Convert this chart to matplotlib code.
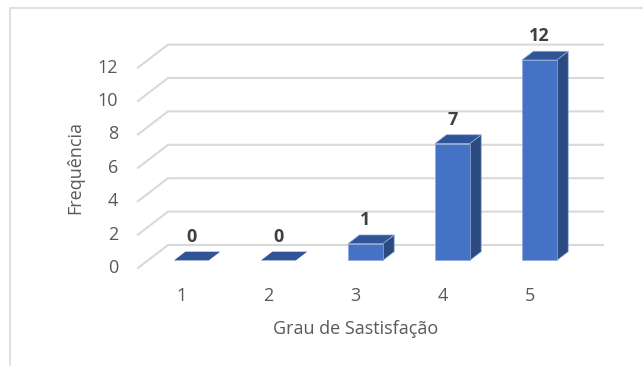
#!/usr/bin/env python3
# -*- coding: utf-8 -*-
import matplotlib
matplotlib.use("Agg")
import matplotlib.pyplot as plt
from matplotlib.patches import Polygon
from matplotlib.lines import Line2D

# Dados
categorias = ["1", "2", "3", "4", "5"]
frequencias = [0, 0, 1, 7, 12]
y_ticks = [0, 2, 4, 6, 8, 10, 12]

plt.rcParams['font.family'] = ['Open Sans', 'DejaVu Sans']

COR_FRENTE = "#4472C4"
COR_TOPO = "#2F5597"
COR_LADO = "#2A4A80"
COR_GRADE = "#D9D9D9"
COR_TEXTO = "#595959"
FS = 13

# profundidade 3D (em unidades de categoria / valor)
DX = 30 / 87
DY = 23 / 16.7


def proj(x, y, d):
    """Ponto (x, y) deslocado para a profundidade d (0 = frente, 1 = fundo)"""
    return (x + d * DX, y + d * DY)


fig = plt.figure(figsize=(6.43, 3.74), dpi=100)
ax = fig.add_axes([0, 0, 1, 1])
ax.set_xlim(-138 / 87, (643 - 138) / 87)
ax.set_ylim(-(374 - 268) / 16.7, 268 / 16.7)
ax.axis("off")

n = len(categorias)
# grade: linha diagonal + linha no fundo
for t in y_ticks:
    x0, y0 = proj(0, t, 0)
    x1, y1 = proj(0, t, 1)
    x2, y2 = proj(n, t, 1)
    ax.plot([x0, x1, x2], [y0, y1, y2], color=COR_GRADE, lw=1.5, zorder=1)
    ax.text(-0.23, t, str(t), ha="right", va="center", fontsize=FS,
            color=COR_TEXTO)

# barras
larg = 0.40
d0, d1 = 0.33, 0.71
for i, (c, v) in enumerate(zip(categorias, frequencias)):
    xc = i + 0.5
    xl, xr = xc - larg / 2, xc + larg / 2
    if v == 0:
        topo = [proj(xl, 0, d0), proj(xr, 0, d0), proj(xr, 0, d1), proj(xl, 0, d1)]
        ax.add_patch(Polygon(topo, closed=True, fc=COR_TOPO, ec="none", zorder=3))
    else:
        frente = [proj(xl, 0, d0), proj(xr, 0, d0), proj(xr, v, d0), proj(xl, v, d0)]
        lado = [proj(xr, 0, d0), proj(xr, 0, d1), proj(xr, v, d1), proj(xr, v, d0)]
        topo = [proj(xl, v, d0), proj(xr, v, d0), proj(xr, v, d1), proj(xl, v, d1)]
        ax.add_patch(Polygon(lado, closed=True, fc=COR_LADO, ec="#8FA9DC", lw=0.5, zorder=3))
        ax.add_patch(Polygon(topo, closed=True, fc=COR_TOPO, ec="#8FA9DC", lw=0.5, zorder=3))
        ax.add_patch(Polygon(frente, closed=True, fc=COR_FRENTE, ec="#8FA9DC", lw=0.5, zorder=4))
    # rótulo de dados
    xt, yt = proj(xc, v, d1)
    ax.text(xc + d0 * DX, yt + 15 / 16.7, str(v), ha="center", va="center",
            fontsize=FS, fontweight="bold", color="#404040", zorder=5)
    # rótulo da categoria
    ax.text(xc, -28 / 16.7, c, ha="center", va="center", fontsize=FS,
            color=COR_TEXTO)

# títulos dos eixos
ax.text((355.5 - 138) / 87, -(329 - 268) / 16.7, "Grau de Sastisfação",
        ha="center", va="center", fontsize=FS, color=COR_TEXTO)
ax.text((75 - 138) / 87, (268 - 167) / 16.7, "Frequência", rotation=90,
        ha="center", va="center", fontsize=FS, color=COR_TEXTO)

# moldura do gráfico
fig.add_artist(Line2D([10 / 643, 10 / 643, 1], [1 - 365 / 374, 1 - 8 / 374, 1 - 8 / 374],
                      transform=fig.transFigure, color=COR_GRADE, lw=1.2))

fig.savefig("out.png", dpi=100)
